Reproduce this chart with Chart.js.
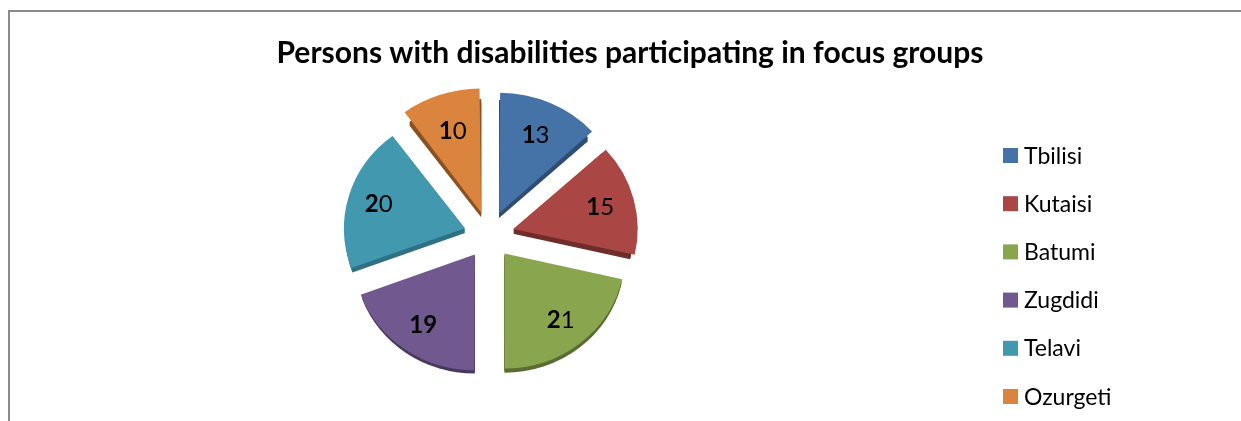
<!DOCTYPE html>
<html>
<head>
<meta charset="utf-8">
<script src="https://cdn.jsdelivr.net/npm/chart.js@4"></script>
<style>
  html, body { margin: 0; padding: 0; background: #fff; overflow: hidden; width: 1241px; height: 421px; }
  #frame { position: absolute; left: 8px; top: 10px; width: 1300px; height: 500px;
           border-left: 2px solid #8a8a8a; border-top: 2px solid #8a8a8a; }
  #wrap { position: absolute; left: 0; top: 0; }
</style>
</head>
<body>
<div id="frame"></div>
<div id="wrap"><canvas id="myChart" width="1260" height="421"></canvas></div>
<script>
const chartTitle = "Persons with disabilities participating in focus groups";
const cities = ["Tbilisi", "Kutaisi", "Batumi", "Zugdidi", "Telavi", "Ozurgeti"];
const participants = [13, 15, 21, 19, 20, 10];
const sliceColors = ["#4572A7", "#AA4643", "#89A54E", "#71588F", "#4198AF", "#DB843D"];
const edgeColors = ["#2f4d73", "#6e2c2a", "#5a6c33", "#48385c", "#2f7083", "#8a5124"];
const boldChars = [1, 1, 1, 2, 1, 1]; // the source renders the leading digit(s) bold

const fontName = "Lato";
const tilt = 0.9525; // the 3D pie is seen a little from above

// squash the pie vertically around the chart area centre
const tiltPlugin = {
  id: "tilt",
  beforeDatasetsDraw(chart) {
    const a = chart.chartArea;
    const cy = (a.top + a.bottom) / 2;
    chart.ctx.save();
    chart.ctx.translate(0, cy);
    chart.ctx.scale(1, tilt);
    chart.ctx.translate(0, -cy);
  },
  afterDatasetsDraw(chart) {
    chart.ctx.restore();
  }
};

// darker copy of each slice pushed down a few px, gives the 3D edge
const depthPlugin = {
  id: "depth",
  beforeDatasetsDraw(chart) {
    const ctx = chart.ctx;
    chart.getDatasetMeta(0).data.forEach((arc, i) => {
      const p = arc.getProps(["x", "y", "startAngle", "endAngle", "outerRadius"], true);
      const mid = (p.startAngle + p.endAngle) / 2;
      const off = (arc.options.offset || 0) / 4;
      const cx = p.x + Math.cos(mid) * off;
      const cy = p.y + Math.sin(mid) * off;
      ctx.save();
      ctx.fillStyle = edgeColors[i];
      for (let d = 1; d <= 5; d++) {
        ctx.beginPath();
        ctx.moveTo(cx, cy + d);
        ctx.arc(cx, cy + d, p.outerRadius, p.startAngle, p.endAngle);
        ctx.closePath();
        ctx.fill();
      }
      ctx.restore();
    });
  }
};

const valueLabels = {
  id: "valueLabels",
  afterDatasetsDraw(chart) {
    const ctx = chart.ctx;
    const a = chart.chartArea;
    const cy0 = (a.top + a.bottom) / 2;
    ctx.save();
    ctx.fillStyle = "#000";
    ctx.textBaseline = "middle";
    ctx.textAlign = "left";
    chart.getDatasetMeta(0).data.forEach((arc, i) => {
      const p = arc.getProps(["x", "y", "startAngle", "endAngle", "outerRadius"], true);
      const mid = (p.startAngle + p.endAngle) / 2;
      const off = (arc.options.offset || 0) / 4;
      const dist = off + p.outerRadius * 0.75;
      const x = p.x + Math.cos(mid) * dist;
      const y = cy0 + (p.y + Math.sin(mid) * dist - cy0) * tilt;
      const txt = String(participants[i]);
      const head = txt.slice(0, boldChars[i]);
      const rest = txt.slice(boldChars[i]);
      ctx.font = "bold 24px " + fontName;
      const wHead = ctx.measureText(head).width;
      ctx.font = "24px " + fontName;
      const wRest = ctx.measureText(rest).width;
      let left = x - (wHead + wRest) / 2;
      ctx.font = "bold 24px " + fontName;
      ctx.fillText(head, left, y);
      ctx.font = "24px " + fontName;
      ctx.fillText(rest, left + wHead, y);
    });
    ctx.restore();
  }
};

// title + legend drawn by hand so the title stays centred on the whole box
const sideLegend = {
  id: "sideLegend",
  afterDraw(chart) {
    const ctx = chart.ctx;
    ctx.save();
    ctx.fillStyle = "#000";
    ctx.textAlign = "center";
    ctx.textBaseline = "alphabetic";
    ctx.font = "bold 30px " + fontName;
    ctx.fillText(chartTitle, 630, 63);

    ctx.textAlign = "left";
    ctx.font = "23px " + fontName;
    cities.forEach((c, i) => {
      const y = 155.5 + i * 48.2;
      ctx.fillStyle = sliceColors[i];
      ctx.fillRect(1003, y - 7.5, 15, 15);
      ctx.fillStyle = "#000";
      ctx.fillText(c, 1024, y + 8);
    });
    ctx.restore();
  }
};

const ctx = document.getElementById("myChart").getContext("2d");
const myChart = new Chart(ctx, {
  type: "pie",
  data: {
    labels: cities,
    datasets: [{
      data: participants,
      backgroundColor: sliceColors,
      borderWidth: 0,
      offset: 100,
      hoverOffset: 0,
      radius: 120
    }]
  },
  options: {
    responsive: false,
    animation: false,
    events: [],
    layout: { padding: { left: 0, right: 282, top: 85, bottom: 36 } },
    plugins: {
      legend: { display: false },
      tooltip: { enabled: false },
      title: { display: false }
    }
  },
  plugins: [tiltPlugin, depthPlugin, valueLabels, sideLegend]
});
</script>
</body>
</html>
